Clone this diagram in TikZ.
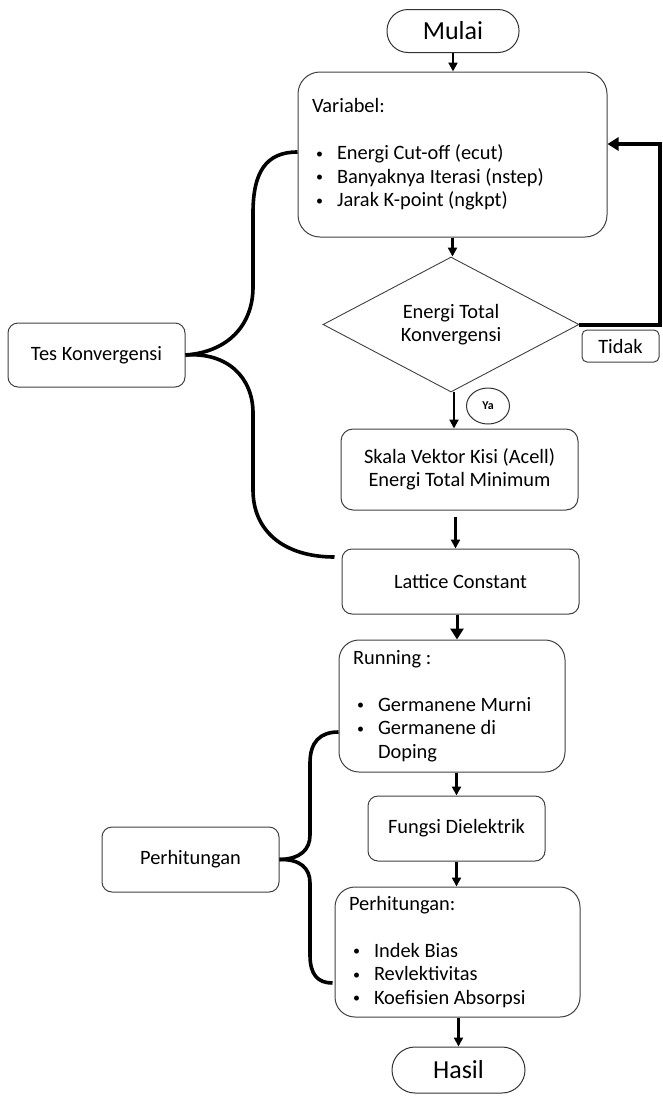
\documentclass[tikz,border=0pt]{standalone}
\usepackage{fontspec}
\setmainfont{Carlito}
\usetikzlibrary{shapes.geometric,arrows.meta,calc}
\newcommand\bul{\hspace*{4pt}\makebox[21pt][l]{\raisebox{1.5pt}{\fontsize{14}{14}\selectfont •}}}
\newcommand\ind{\hspace*{25pt}}
\begin{document}
\begin{tikzpicture}[x=1pt,y=-1pt,
  box/.style={draw=black!75, line width=1pt, rounded corners=10pt, inner sep=0pt,
    font=\fontsize{20.4}{23.5}\selectfont, align=center},
  listbox/.style={box, align=flush left, inner xsep=14pt},
  term/.style={draw=black!80, line width=1pt, inner sep=0pt, font=\fontsize{26}{30}\selectfont},
  arr/.style={-{Triangle[length=9pt,width=9pt]}, line width=2.2pt},
  bigarr/.style={-{Triangle[length=11pt,width=13pt]}, line width=3pt},
  bline/.style={line width=3.6pt, black},
  loopline/.style={-{Triangle[length=11pt,width=13pt]}, line width=4pt, miter limit=10}]
\useasboundingbox (0,0) rectangle (663,1098);

% main column
\node[term, rounded corners=21pt, minimum width=132pt, minimum height=43pt] (mulai) at (453,31) {Mulai};
\node[listbox, rounded corners=22pt, minimum width=309pt, minimum height=165pt, text width=281pt] (var) at (452.5,154.5)
  {Variabel:\\[23.5pt]
   \bul Energi Cut-off (ecut)\\
   \bul Banyaknya Iterasi (nstep)\\
   \bul Jarak K-point (ngkpt)};
\node[draw=black!75, line width=0.9pt, diamond, aspect=2, minimum width=256pt, minimum height=135pt, inner sep=0pt,
  font=\fontsize{20.4}{23.5}\selectfont, align=center] (dia) at (451,324.5) {Energi Total\\Konvergensi};
\node[box, rounded corners=5pt, minimum width=77pt, minimum height=32pt] (tidak) at (620.5,346) {Tidak};
\node[draw=black!80, line width=1pt, ellipse, minimum width=43pt, minimum height=36pt, inner sep=0pt,
  font=\fontsize{12}{13}\selectfont\bfseries] (ya) at (488,406) {Ya};
\node[box, rounded corners=12pt, minimum width=237pt, minimum height=81pt] (skala) at (459.5,469.5)
  {Skala Vektor Kisi (Acell)\\Energi Total Minimum};
\node[box, minimum width=237pt, minimum height=65pt] (lat) at (460.5,581.5) {Lattice Constant};
\node[listbox, rounded corners=20pt, minimum width=226pt, minimum height=132pt, text width=198pt] (run) at (452,706)
  {Running :\\[23.5pt]
   \bul Germanene Murni\\
   \bul Germanene di\\
   \ind Doping};
\node[box, minimum width=177pt, minimum height=65pt] (fun) at (456.5,828.5) {Fungsi Dielektrik};
\node[listbox, rounded corners=20pt, minimum width=245pt, minimum height=130pt, text width=217pt] (p2) at (457.5,952)
  {Perhitungan:\\[23.5pt]
   \bul Indek Bias\\
   \bul Revlektivitas\\
   \bul Koefisien Absorpsi};
\node[term, rounded corners=23pt, minimum width=133pt, minimum height=46pt] (hasil) at (458.5,1070) {Hasil};

% side boxes
\node[box, minimum width=177pt, minimum height=64pt] (tes) at (96.5,355) {Tes Konvergensi};
\node[box, minimum width=177pt, minimum height=65pt] (perh) at (190.5,859.5) {Perhitungan};

% arrows
\draw[arr] (mulai.south) -- (mulai.south |- var.north);
\draw[arr] (var.south) -- (var.south |- dia.north);
\coordinate (d1) at ($(dia.south)+(3,0)$);
\draw[arr] (d1) -- (d1 |- skala.north);
\coordinate (s1) at ($(skala.south)+(-4,6)$);
\draw[arr] (s1) -- (s1 |- lat.north);
\coordinate (l1) at ($(lat.south)+(-3.5,0)$);
\draw[bigarr] (l1) -- (l1 |- run.north);
\draw[arr] (fun.north |- run.south) -- (fun.north);
\draw[arr] (fun.south) -- (fun.south |- p2.north);
\draw[arr] (hasil.north |- p2.south) -- (hasil.north);

% loop back (Tidak)
\coordinate (vr) at ($(var.east)+(0,-10.5)$);
\draw[loopline] (dia.east) -- (dia.east -| tidak.east) -- (tidak.east |- vr) -- (vr);

% braces
\coordinate (le) at ($(lat.west)+(-7,-24.5)$);
\draw[bline] (tes.east) .. controls (228,352) and (253,325) .. (253,287) -- (253,213)
  .. controls (253,172) and (266,152) .. (var.west |- 0,152);
\draw[bline] (tes.east) .. controls (228,352) and (253,378) .. (253,413) -- (253,490)
  .. controls (253,532) and (285,557) .. (le);
\coordinate (re) at ($(run.west)+(0,26)$);
\coordinate (pe) at ($(p2.west)+(-2,31)$);
\draw[bline] (perh.east) .. controls (300,859) and (310,850) .. (310,835) -- (310,763)
  .. controls (310,742) and (320,732) .. (re);
\draw[bline] (perh.east) .. controls (300,859) and (310,868) .. (310,883) -- (310,955)
  .. controls (310,975) and (318,983) .. (pe);
\end{tikzpicture}
\end{document}
